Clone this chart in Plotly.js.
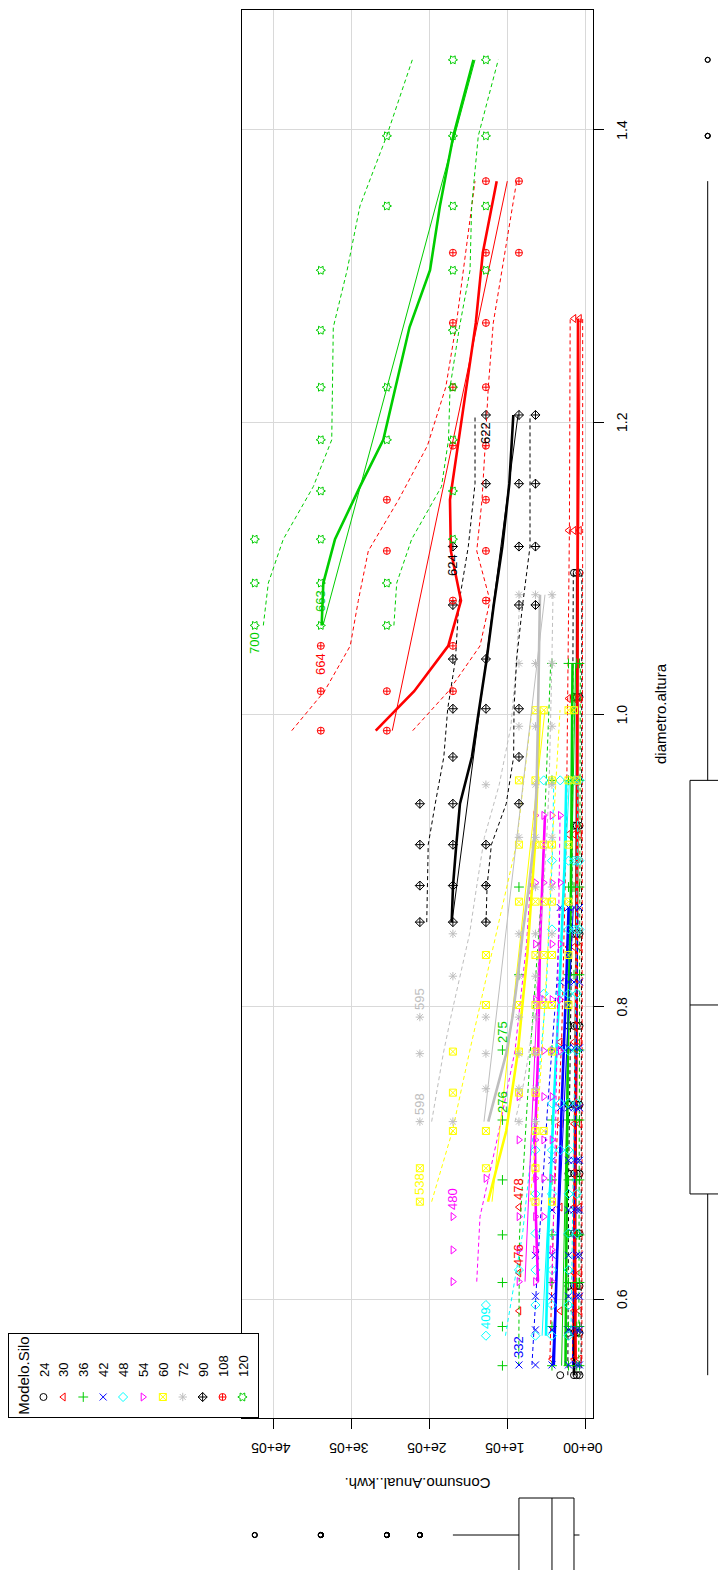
<!DOCTYPE html>
<html>
<head>
<meta charset="utf-8">
<script src="https://cdn.plot.ly/plotly-3.0.1.min.js"></script>
<style>
  html, body { margin: 0; padding: 0; background: #fff; overflow: hidden; }
  #turn { position: absolute; left: 0; top: 0; width: 1570px; height: 718px;
          transform-origin: 0 0; transform: translate(0px, 1570px) rotate(-90deg); }
  #plot { width: 1570px; height: 718px; }
</style>
</head>
<body>
<div id="turn"><div id="plot"></div></div>
<script>
// Modelo.Silo groups, legend order
const models = ['24', '30', '36', '42', '48', '54', '60', '72', '90', '108', '120'];

// diametro.altura (x) and Consumo.Anual..kwh. (y) per model
const x24 = [0.548,0.548,0.548,0.548, 0.577,0.577,0.577,0.577, 0.609,0.609,0.609,0.609, 0.645,0.645,0.645,0.645, 0.686,0.686,0.686,0.686, 0.733,0.733,0.733,0.733, 0.787,0.787,0.787,0.787, 0.850,0.850,0.850, 0.924,0.924,0.924, 1.012,1.012,1.012, 1.097,1.097,1.097];
const y24 = [31760,14110,10590,7060, 21170,14110,10590,7060, 21170,14110,10590,7060, 21170,14110,10590,7060, 21170,14110,10590,7060, 21170,14110,10590,7060, 21170,14110,10590,7060, 14110,10590,7060, 14110,10590,7060, 14110,10590,7060, 14110,10590,7060];

const x30 = [0.559,0.559,0.559, 0.592,0.592,0.592,0.592, 0.618,0.618,0.618, 0.663,0.663,0.663,0.663, 0.720,0.720,0.720, 0.776,0.776,0.776, 0.841,0.841,0.841, 0.918,0.918,0.918, 1.011,1.011,1.011, 1.126,1.126,1.126, 1.271,1.271];
const y30 = [42340,14110,7060, 84680,31760,14110,7060, 84680,14110,7060, 84680,31760,14110,7060, 31760,14110,7060, 31760,14110,7060, 21170,14110,7060, 21170,14110,7060, 21170,14110,7060, 21170,14110,7060, 14110,7060];

const x36 = [0.5545,0.5545,0.5545,0.5545,0.5545, 0.5813,0.5813,0.5813,0.5813,0.5813, 0.6114,0.6114,0.6114,0.6114,0.6114, 0.644,0.644,0.644,0.644,0.644, 0.6816,0.6816,0.6816,0.6816,0.6816, 0.7226,0.7226,0.7226,0.7226,0.7226, 0.7705,0.7705,0.7705,0.7705,0.7705, 0.822,0.822,0.822,0.822, 0.882,0.882,0.882,0.882, 0.955,0.955,0.955,0.955, 1.035,1.035,1.035,1.035];
const y36 = [105850,42340,21170,10590,7060, 105850,42340,21170,10590,7060, 105850,42340,21170,10590,7060, 105850,42340,21170,10590,7060, 105850,42340,21170,10590,7060, 105850,42340,21170,10590,7060, 105850,42340,21170,10590,7060, 84680,21170,14110,7060, 84680,21170,14110,7060, 42340,21170,14110,7060, 42340,21170,10590,7060];

const x42 = [0.555,0.555,0.555,0.555,0.555,0.555, 0.579,0.579,0.579,0.579,0.579, 0.602,0.602,0.602,0.602,0.602, 0.630,0.630,0.630,0.630,0.630, 0.661,0.661,0.661,0.661,0.661, 0.695,0.695,0.695,0.695,0.695, 0.731,0.731,0.731,0.731,0.731, 0.772,0.772,0.772,0.772, 0.817,0.817,0.817,0.817, 0.868,0.868,0.868,0.868];
const y42 = [84680,63510,42340,21170,10590,7060, 63510,42340,21170,10590,7060, 63510,42340,21170,10590,7060, 63510,42340,21170,10590,7060, 42340,21170,14110,10590,7060, 42340,21170,14110,10590,7060, 31760,21170,14110,10590,7060, 31760,21170,14110,7060, 31760,21170,14110,7060, 31760,21170,14110,7060];

const x48 = [0.575,0.575,0.575,0.575, 0.596,0.596,0.596,0.596, 0.620,0.620,0.620,0.620, 0.645,0.645,0.645,0.645, 0.672,0.672,0.672,0.672, 0.702,0.702,0.702,0.702, 0.734,0.734,0.734,0.734, 0.770,0.770,0.770,0.770, 0.809,0.809,0.809,0.809, 0.853,0.853,0.853,0.853,0.853, 0.900,0.900,0.900,0.900,0.900, 0.955,0.955,0.955,0.955,0.955];
const y48 = [127020,63510,42340,21170, 127020,63510,42340,21170, 84680,63510,42340,21170, 63510,42340,21170,10590, 63510,42340,21170,10590, 63510,42340,31760,21170, 42340,31760,21170,10590, 42340,31760,21170,10590, 52930,31760,21170,10590, 42340,21170,14110,10590,7060, 42340,21170,14110,10590,7060, 52930,31760,14110,10590,7060];

const x54 = [0.612,0.612,0.612,0.612, 0.6337,0.6337,0.6337,0.6337, 0.6565,0.6565,0.6565,0.6565, 0.6827,0.6827,0.6827,0.6827, 0.709,0.709,0.709,0.709, 0.7386,0.7386,0.7386,0.7386, 0.770,0.770,0.770,0.770, 0.805,0.805,0.805,0.805, 0.843,0.843,0.843, 0.885,0.885,0.885,0.885, 0.931,0.931,0.931,0.931];
const y54 = [169360,84680,63510,42340, 169360,84680,63510,42340, 169360,84680,63510,52930, 127020,63510,52930,42340, 84680,63510,52930,42340, 84680,63510,52930,42340, 63510,52930,42340,31760, 63510,52930,42340,31760, 63510,42340,31760, 63510,52930,42340,31760, 63510,52930,42340,31760];

const x60 = [0.6667,0.6667,0.6667, 0.6896,0.6896,0.6896, 0.7151,0.7151,0.7151,0.7151, 0.7413,0.7413,0.7413, 0.7694,0.7694,0.7694,0.7694, 0.8013,0.8013,0.8013,0.8013,0.8013,0.8013, 0.8355,0.8355,0.8355,0.8355,0.8355, 0.872,0.872,0.872,0.872,0.872, 0.911,0.911,0.911,0.911,0.911, 0.955,0.955,0.955,0.955,0.955, 1.003,1.003,1.003,1.003];
const y60 = [211700,63510,42340, 211700,127020,63510, 169360,127020,63510,52930, 169360,84680,63510, 169360,84680,63510,42340, 127020,84680,63510,52930,42340,21170, 127020,63510,52930,42340,21170, 84680,63510,52930,42340,21170, 84680,63510,52930,42340,21170, 84680,63510,42340,21170,10590, 63510,52930,21170,14110];

const x72 = [1.082,1.082,1.082, 1.035,1.035,1.035, 0.992,0.992,0.992, 0.952,0.952,0.952, 0.916,0.916,0.916, 0.882,0.882, 0.850,0.850,0.850,0.850, 0.821,0.821,0.821, 0.793,0.793,0.793,0.793, 0.768,0.768,0.768,0.768, 0.744,0.744,0.744, 0.7215,0.7215,0.7215,0.7215];
const y72 = [84680,63510,42340, 84680,63510,42340, 84680,63510,42340, 127020,63510,42340, 84680,63510,42340, 63510,42340, 169360,84680,63510,42340, 169360,84680,63510, 211700,127020,84680,63510, 211700,127020,84680,63510, 127020,84680,63510, 211700,169360,84680,63510];

const x90 = [1.205,1.205,1.205, 1.158,1.158,1.158, 1.115,1.115,1.115, 1.075,1.075,1.075, 1.038,1.038, 1.004,1.004,1.004, 0.971,0.971, 0.939,0.939,0.939, 0.911,0.911,0.911, 0.883,0.883,0.883, 0.858,0.858,0.858];
const y90 = [127020,84680,63510, 127020,84680,63510, 169360,84680,63510, 169360,84680,63510, 169360,127020, 169360,127020,84680, 169360,84680, 211700,169360,84680, 211700,169360,127020, 211700,169360,127020, 211700,169360,127020];

const x108 = [1.365,1.365, 1.316,1.316,1.316, 1.268,1.268, 1.224,1.224, 1.184,1.184, 1.147,1.147, 1.112,1.112, 1.078,1.078, 1.047,1.047, 1.016,1.016,1.016, 0.989,0.989];
const y108 = [127020,84680, 169360,127020,84680, 169360,127020, 169360,127020, 169360,127020, 254040,127020, 254040,127020, 169360,127020, 338720,169360, 338720,254040,169360, 338720,254040];

const x120 = [1.448,1.448, 1.396,1.396,1.396, 1.348,1.348,1.348, 1.304,1.304,1.304, 1.263,1.263, 1.224,1.224,1.224, 1.188,1.188,1.188, 1.153,1.153, 1.120,1.120,1.120, 1.090,1.090,1.090, 1.061,1.061,1.061];
const y120 = [169360,127020, 254040,169360,127020, 254040,169360,127020, 338720,169360,127020, 338720,169360, 338720,254040,169360, 338720,254040,169360, 338720,169360, 423400,338720,169360, 423400,338720,254040, 423400,338720,254040];

// least-squares lines (end points)
const fitX24 = [0.548, 1.097],  fitY24 = [15000, 9000];
const fitX30 = [0.559, 1.271],  fitY30 = [16000, 6000];
const fitX36 = [0.5545, 1.035], fitY36 = [30000, 12000];
const fitX42 = [0.555, 0.868],  fitY42 = [42000, 15000];
const fitX48 = [0.575, 0.955],  fitY48 = [55000, 20000];
const fitX54 = [0.612, 0.931],  fitY54 = [76900, 51300];
const fitX60 = [0.6667, 1.003], fitY60 = [119200, 51300];
const fitX72 = [0.7215, 1.082], fitY72 = [129500, 51300];
const fitX90 = [0.858, 1.205],  fitY90 = [170500, 85900];
const fitX108 = [0.989, 1.365], fitY108 = [247100, 99600];
const fitX120 = [1.061, 1.448], fitY120 = [335900, 141000];

// smoother with its spread band, read at a few x positions per model
const bandX24 = [0.548, 0.686, 0.850, 1.097];
const smooth24 = [14000, 12500, 10500, 10000];
const upper24 = [22000, 21000, 17000, 15000];
const lower24 = [5000, 5000, 4500, 4000];

const bandX30 = [0.559, 0.663, 0.776, 0.918, 1.126, 1.271];
const smooth30 = [12000, 13000, 11000, 10000, 9500, 9000];
const upper30 = [45000, 40000, 30000, 24000, 20000, 19000];
const lower30 = [4000, 4000, 3500, 3500, 3000, 3000];

const bandX36 = [0.5545, 0.644, 0.7705, 0.882, 1.035];
const smooth36 = [25000, 24000, 22000, 18000, 16000];
const upper36 = [85000, 84000, 70000, 55000, 44000];
const lower36 = [8000, 7500, 7000, 6500, 6000];

const bandX42 = [0.555, 0.630, 0.731, 0.817, 0.868];
const smooth42 = [40000, 36000, 30000, 24000, 21000];
const upper42 = [68000, 60000, 48000, 36000, 32000];
const lower42 = [16000, 14000, 12000, 10000, 9000];

const bandX48 = [0.575, 0.645, 0.734, 0.809, 0.900, 0.955];
const smooth48 = [50000, 47000, 40000, 33000, 26000, 24000];
const upper48 = [102000, 80000, 62000, 50000, 42000, 40000];
const lower48 = [18000, 16000, 14000, 12000, 10000, 9000];

const bandX54 = [0.612, 0.6565, 0.709, 0.770, 0.843, 0.931];
const smooth54 = [60300, 63000, 64100, 60000, 57700, 51300];
const upper54 = [138800, 134600, 112800, 89700, 75000, 64100];
const lower54 = [42300, 40000, 38000, 36000, 34000, 32000];

const bandX60 = [0.6667, 0.7151, 0.7694, 0.8355, 0.911, 1.003];
const smooth60 = [124400, 101000, 86000, 74000, 64000, 57700];
const upper60 = [196600, 170000, 148000, 120000, 88000, 68000];
const lower60 = [70500, 62000, 55000, 48000, 42000, 32000];

const bandX72 = [0.7215, 0.744, 0.768, 0.793, 0.821, 0.850, 0.882, 0.916, 0.952, 0.992, 1.035, 1.082];
const smooth72 = [124000, 113000, 101000, 93000, 86000, 80000, 72000, 65000, 62000, 60500, 59500, 57700];
const upper72 = [196600, 189000, 181700, 172000, 160000, 148000, 139000, 129000, 110000, 95000, 88000, 83300];
const lower72 = [89700, 80000, 72000, 66000, 61000, 57700, 53000, 49000, 46000, 44000, 42500, 41000];

const bandX90 = [0.858, 0.883, 0.911, 0.939, 0.971, 1.004, 1.038, 1.075, 1.115, 1.158, 1.205];
const smooth90 = [170900, 169200, 165000, 160300, 145000, 136000, 126000, 117000, 106000, 97000, 91900];
const upper90 = [202900, 202000, 201000, 192000, 181000, 176000, 166000, 162000, 149600, 141000, 141000];
const lower90 = [126900, 125500, 120000, 101000, 91500, 91000, 87600, 80000, 70500, 70500, 70500];

const bandX108 = [0.989, 1.016, 1.047, 1.078, 1.112, 1.147, 1.184, 1.224, 1.268, 1.316, 1.365];
const smooth108 = [268300, 219000, 175300, 159000, 172000, 173100, 163000, 152000, 140000, 131000, 113200];
const upper108 = [376000, 334000, 301000, 290600, 277800, 239000, 202000, 178500, 164800, 153000, 141000];
const lower108 = [220900, 175000, 134600, 121800, 138800, 132000, 128000, 124000, 117600, 102500, 87600];

const bandX120 = [1.061, 1.090, 1.120, 1.156, 1.188, 1.224, 1.265, 1.304, 1.348, 1.396, 1.448];
const smooth120 = [337600, 335500, 320500, 288500, 258600, 243000, 225000, 198700, 186000, 168800, 143000];
const upper120 = [412400, 406000, 386800, 348300, 324700, 324000, 322700, 305000, 288500, 254200, 221400];
const lower120 = [245000, 241400, 222200, 184000, 175000, 173000, 161000, 147400, 145300, 136800, 111200];

// identified points
const labelText  = ['700', '663', '664', '624', '622', '598', '595', '538', '480', '478', '476', '409', '332', '275', '276'];
const labelModel = ['120', '120', '108', '90', '90', '72', '72', '60', '54', '30', '30', '48', '42', '36', '36'];
const labelX = [1.061, 1.090, 1.047, 1.115, 1.205, 0.7215, 0.793, 0.6667, 0.6565, 0.663, 0.618, 0.575, 0.555, 0.7705, 0.7226];
const labelY = [423400, 338720, 338720, 169360, 127020, 211700, 211700, 211700, 169360, 84680, 84680, 127020, 84680, 105850, 105850];
const labelSide = ['left', 'left', 'left', 'left', 'left', 'right', 'right', 'right', 'right', 'right', 'right', 'right', 'right', 'right', 'right'];

// axis ticks
const xTicks = [0.6, 0.8, 1.0, 1.2, 1.4];
const xTickText = ['0.6', '0.8', '1.0', '1.2', '1.4'];
const yTicks = [0, 100000, 200000, 300000, 400000];
const yTickText = ['0e+00', '1e+05', '2e+05', '3e+05', '4e+05'];

// ---------------------------------------------------------------
const colors = ['#000000', '#FF0000', '#00CD00', '#0000FF', '#00FFFF', '#FF00FF',
                '#FFFF00', '#BEBEBE', '#000000', '#FF0000', '#00CD00'];
const symbols = ['circle-open', 'triangle-up-open', 'cross-thin-open', 'x-thin-open',
                 'diamond-open', 'triangle-down-open', 'square-x-open', 'asterisk-open',
                 'diamond-cross-open', 'circle-cross-open', 'hexagram-open'];

const pts = {
  '24': [x24, y24], '30': [x30, y30], '36': [x36, y36], '42': [x42, y42],
  '48': [x48, y48], '54': [x54, y54], '60': [x60, y60], '72': [x72, y72],
  '90': [x90, y90], '108': [x108, y108], '120': [x120, y120]
};
const fits = {
  '24': [fitX24, fitY24], '30': [fitX30, fitY30], '36': [fitX36, fitY36], '42': [fitX42, fitY42],
  '48': [fitX48, fitY48], '54': [fitX54, fitY54], '60': [fitX60, fitY60], '72': [fitX72, fitY72],
  '90': [fitX90, fitY90], '108': [fitX108, fitY108], '120': [fitX120, fitY120]
};
const bands = {
  '24': [bandX24, smooth24, upper24, lower24], '30': [bandX30, smooth30, upper30, lower30],
  '36': [bandX36, smooth36, upper36, lower36], '42': [bandX42, smooth42, upper42, lower42],
  '48': [bandX48, smooth48, upper48, lower48], '54': [bandX54, smooth54, upper54, lower54],
  '60': [bandX60, smooth60, upper60, lower60], '72': [bandX72, smooth72, upper72, lower72],
  '90': [bandX90, smooth90, upper90, lower90], '108': [bandX108, smooth108, upper108, lower108],
  '120': [bandX120, smooth120, upper120, lower120]
};

const FONT = 'Liberation Sans, Arial, sans-serif';
const W = 1570, H = 718;
// plot frame in pixels (left, right, top, bottom)
const FL = 152, FR = 1560, FT = 242, FB = 593;
const xRange = [0.5187, 1.4821];
const yRange = [-10256, 439744];

const traces = [];
function line(xs, ys, color, width, dash) {
  return { type: 'scatter', mode: 'lines', x: xs, y: ys, showlegend: false, hoverinfo: 'skip',
           line: { color: color, width: width, dash: dash || 'solid' } };
}

models.forEach(function (m, i) {
  const c = colors[i];
  traces.push({
    type: 'scatter', mode: 'markers', name: m, x: pts[m][0], y: pts[m][1],
    marker: { symbol: symbols[i], color: c, size: 7, line: { color: c, width: 1 } },
    legendrank: i + 1
  });
  traces.push(line(fits[m][0], fits[m][1], c, 1));
  const b = bands[m];
  traces.push(line(b[0], b[1], c, 2.6));
  traces.push(line(b[0], b[2], c, 1, '4px,3px'));
  traces.push(line(b[0], b[3], c, 1, '4px,3px'));
});

// marginal box plots of both variables
let allX = [], allY = [];
models.forEach(function (m) { allX = allX.concat(pts[m][0]); allY = allY.concat(pts[m][1]); });

const boxStyle = {
  boxpoints: 'outliers', jitter: 0, pointpos: 0, whiskerwidth: 0, quartilemethod: 'inclusive',
  fillcolor: 'rgba(0,0,0,0)', line: { color: '#000', width: 1 },
  marker: { symbol: 'circle-open', size: 5, color: '#000', line: { width: 1 } },
  showlegend: false, hoverinfo: 'skip'
};
traces.push(Object.assign({ type: 'box', x: allX, y0: 0, orientation: 'h', width: 35.4,
                            xaxis: 'x3', yaxis: 'y2' }, boxStyle));
traces.push(Object.assign({ type: 'box', y: allY, x0: 0, width: 74,
                            xaxis: 'x2', yaxis: 'y3' }, boxStyle));

const xDom = [FL / W, FR / W];
const yDom = [(H - FB) / H, (H - FT) / H];

const annotations = [];
labelText.forEach(function (t, k) {
  const idx = models.indexOf(labelModel[k]);
  const left = labelSide[k] === 'left';
  annotations.push({
    xref: 'x', yref: 'y', x: labelX[k], y: labelY[k], text: t, showarrow: false,
    xanchor: left ? 'right' : 'left', yanchor: 'middle', xshift: left ? -5 : 5,
    font: { family: FONT, size: 13, color: colors[idx] }
  });
});
annotations.push({
  xref: 'paper', yref: 'paper', x: ((FL + FR) / 2) / W, y: (H - 660) / H,
  text: 'diametro.altura', showarrow: false, xanchor: 'center', yanchor: 'middle',
  font: { family: FONT, size: 15, color: '#000' }
});
annotations.push({
  xref: 'paper', yref: 'paper', x: 87 / W, y: (H - (FT + FB) / 2) / H,
  text: 'Consumo.Anual..kwh.', showarrow: false, textangle: -90,
  xanchor: 'center', yanchor: 'middle',
  font: { family: FONT, size: 15, color: '#000' }
});

const axisCommon = {
  showline: true, linecolor: '#000', linewidth: 1, mirror: true,
  ticks: 'outside', ticklen: 10, tickcolor: '#000', tickwidth: 1,
  showgrid: true, gridcolor: '#d9d9d9', gridwidth: 1, zeroline: false,
  tickfont: { family: FONT, size: 14, color: '#000' }, fixedrange: true
};

const layout = {
  width: W, height: H, margin: { l: 0, r: 0, t: 0, b: 0 },
  paper_bgcolor: '#fff', plot_bgcolor: '#fff',
  showlegend: true,
  xaxis: Object.assign({}, axisCommon, {
    domain: xDom, range: xRange, tickmode: 'array', tickvals: xTicks, ticktext: xTickText,
    anchor: 'y', ticklabelstandoff: 6
  }),
  yaxis: Object.assign({}, axisCommon, {
    domain: yDom, range: yRange, tickmode: 'array', tickvals: yTicks, ticktext: yTickText,
    anchor: 'x', tickangle: -90, ticklabelstandoff: 8
  }),
  xaxis2: { domain: [0, 75 / W], range: [-35, 40], visible: false, anchor: 'y3', fixedrange: true },
  yaxis3: { domain: yDom, range: yRange, visible: false, anchor: 'x2', fixedrange: true },
  xaxis3: { domain: xDom, range: xRange, visible: false, anchor: 'y2', fixedrange: true },
  yaxis2: { domain: [0, 30 / H], range: [-10.3, 19.7], visible: false, anchor: 'x3', fixedrange: true },
  legend: {
    x: FL / W, xanchor: 'left', y: (H - 8) / H, yanchor: 'top',
    bgcolor: '#fff', bordercolor: '#000', borderwidth: 1,
    font: { family: FONT, size: 13, color: '#000' },
    title: { text: 'Modelo.Silo', side: 'top center', font: { family: FONT, size: 15, color: '#000' } },
    itemsizing: 'trace', traceorder: 'normal', itemwidth: 30
  },
  annotations: annotations
};

Plotly.newPlot('plot', traces, layout, { displayModeBar: false, staticPlot: true });
</script>
</body>
</html>
